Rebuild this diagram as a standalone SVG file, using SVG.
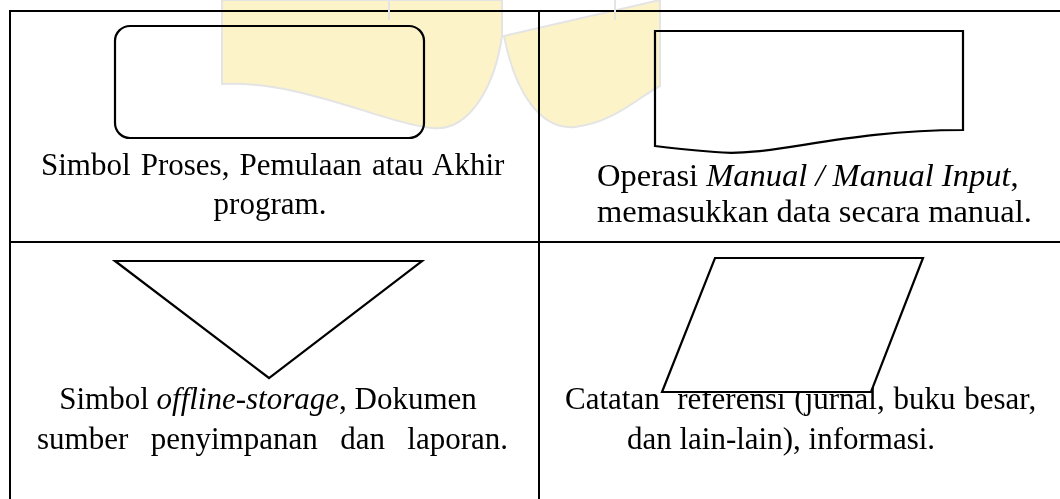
<svg xmlns="http://www.w3.org/2000/svg" width="1060" height="499" viewBox="0 0 1060 499">
<style>
.t{font-family:"Liberation Serif","Times New Roman",serif;font-size:31px;fill:#000}
.i{font-style:italic}
.shape{fill:#fff;stroke:#000;stroke-width:2.2}
.grid{stroke:#000;stroke-width:2;fill:none}
.wm{fill:#fdf3c8;stroke:#e4e4e4;stroke-width:2;mix-blend-mode:multiply}
</style>
<rect width="1060" height="499" fill="#fff"/>
<g id="table">
<path class="grid" d="M10,499 V11 H1060 M539,11 V499 M10,242 H1060"/>
</g>
<g id="cell-proses">
<rect class="shape" x="115" y="26" width="309" height="112" rx="15" ry="15"/>
<text class="t" x="41" y="175" word-spacing="2.4">Simbol Proses, Pemulaan atau Akhir</text>
<text class="t" x="270" y="214" text-anchor="middle">program.</text>
</g>
<g id="cell-manual">
<path class="shape" d="M655,31 H963 V130 C840,130 770,158 715,152 C690,150 670,148 655,146 Z"/>
<text class="t" x="597" y="186" style="font-size:32.5px">Operasi <tspan class="i">Manual / Manual Input</tspan>,</text>
<text class="t" x="597" y="222" style="font-size:32.5px">memasukkan data secara manual.</text>
</g>
<g id="cell-offline">
<path class="shape" d="M115,261 H422 L269,378 Z"/>
<text class="t" x="268" y="409" text-anchor="middle">Simbol <tspan class="i">offline-storage</tspan>, Dokumen</text>
<text class="t" x="37" y="449" word-spacing="14.7">sumber penyimpanan dan laporan.</text>
</g>
<g id="cell-referensi">
<text class="t" x="565" y="409" word-spacing="1" style="white-space:pre">Catatan  referensi (jurnal, buku besar,</text>
<text class="t" x="781" y="449" text-anchor="middle">dan lain-lain), informasi.</text>
<path class="shape" d="M715,258 H923 L871,392 H662 Z"/>
</g>
<g id="watermark">
<path class="wm" d="M222,0 L222,84 C300,80 380,122 432,128 C470,132 495,85 502,36 L502,0 Z"/>
<path class="wm" d="M504,36 C515,92 540,130 575,127 C615,122 640,96 660,86 L660,0 Z"/>
<path d="M389,0 V20 M615,0 V20" stroke="#e4e4e4" stroke-width="2" fill="none"/>
</g>
</svg>
